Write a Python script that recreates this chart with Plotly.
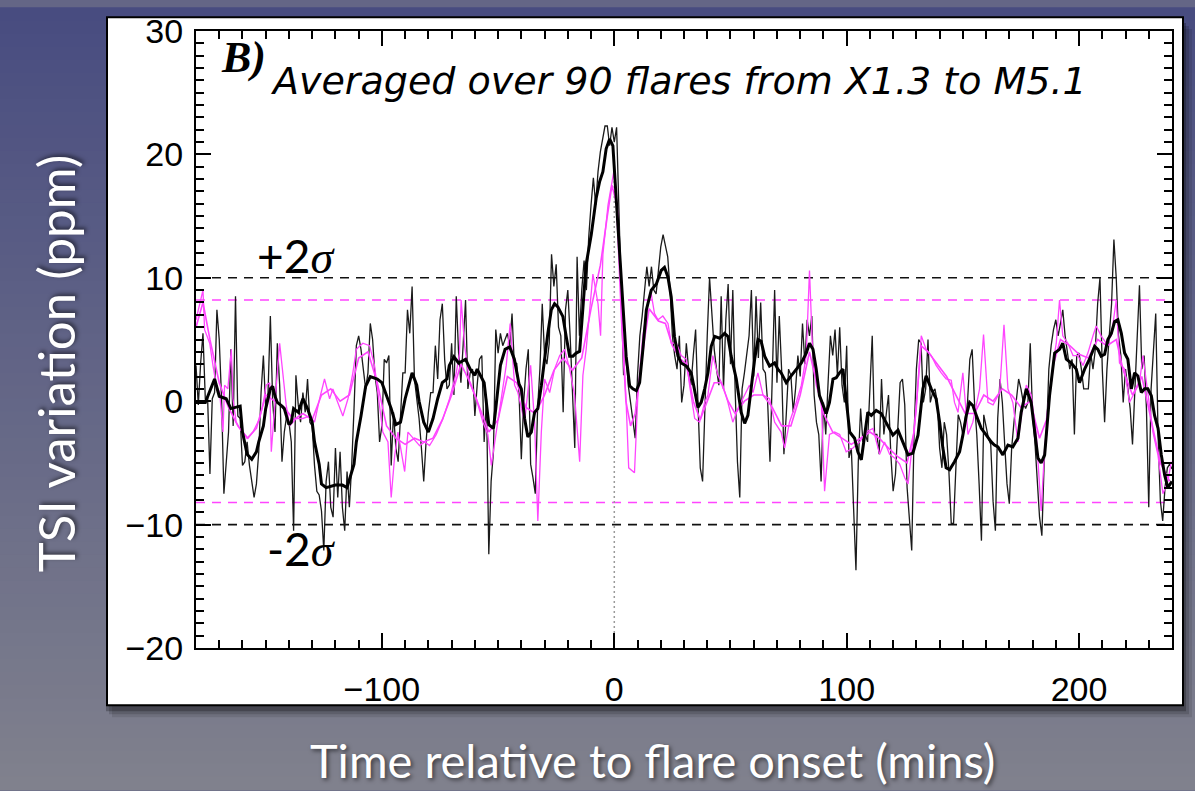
import plotly.graph_objects as go

# ---------------- data ----------------
# thin black line: 1-minute samples from -180 to 240 min
t_raw = list(range(-180, 241))
raw_black = [
    # -180 .. -42
    2.9, -0.3, 3.1, 5.5, 0.2, 0.2, -5.9, 0.2, 0.7, 7.4,
    5.0, 0.2, -7.5, -5.2, -2.5, 4.2, -2.0, 8.5, -1.2, -1.4,
    -5.2, -4.9, -3.3, -5.2, -6.5, -7.8, -6.7, -4.1, 0.7, 3.7,
    -0.6, 0.7, 6.9, -0.1, -2.5, 4.7, 1.3, -4.9, -2.5, -1.2,
    -1.7, -3.3, -10.5, 2.1, -0.3, -1.7, 0.7, -0.9, 1.8, -1.7,
    -2.0, -5.2, -7.3, -7.6, -8.9, -12.1, -6.5, -4.9, -8.6, -9.4,
    -3.8, -7.8, -4.1, -8.6, -10.5, -5.7, -8.6, -5.2, -0.6, 4.5,
    5.3, 4.2, 2.6, 1.0, 2.3, 6.3, 5.0, 2.1, 0.7, -3.3,
    -2.0, 3.4, 3.1, 3.7, -5.2, -0.9, -3.8, -4.9, -1.2, 2.3,
    2.3, 7.4, 5.5, 9.3, 1.8, 0.2, -1.4, -3.8, -6.5, -3.3,
    -0.9, 0.7, 0.7, 4.5, 1.8, 6.6, 7.9, 3.4, 1.0, 1.3,
    4.7, 0.5, 8.5, 3.9, 1.5, 4.7, 8.2, 1.0, 2.3, 2.6,
    -1.2, 1.3, 3.4, 3.7, -3.3, 0.2, -12.4, -6.5, -4.1, 5.8,
    3.9, 5.5, 4.5, 5.0, 5.5, 4.5, 7.1, 2.9, 3.1,
    # -41 .. 96
    0.7, -4.7, -0.1, 2.6, 4.2, -5.1, -6.2, -7.5, -0.6, 2.6,
    7.9, 3.7, 3.0, 4.7, 11.9, 9.3, 11.1, 6.0, 5.3, -0.9,
    7.4, 9.0, 5.3, 0.5, -3.8, 11.7, 5.3, 9.0, 11.4, 9.0,
    13.3, 15.9, 18.1, 15.9, 18.6, 20.2, 21.3, 22.3, 22.3, 20.7,
    22.2, 21.0, 22.2, 15.9, 7.9, 2.1, 4.2, 1.3, -0.1, -1.7,
    -3.0, 2.1, 5.3, 6.9, 8.7, 10.9, 9.3, 10.9, 9.0, 8.7,
    10.6, 12.5, 13.5, 12.5, 11.7, 9.0, 5.3, 3.7, 2.6, 5.3,
    -0.1, 1.3, 4.7, 2.6, 1.3, 3.7, 5.8, -0.1, -5.4, -6.5,
    -0.1, 5.3, 10.0, 7.4, 4.2, 2.6, 1.3, 8.5, 1.0, 6.6,
    9.5, 3.0, 9.0, 1.0, -4.9, -7.8, 1.0, 2.3, 3.7, 5.3,
    9.0, 2.0, 8.5, 3.5, 8.0, 2.6, 2.3, -0.1, -4.9, 2.1,
    9.0, 1.5, 6.9, 2.6, -4.3, -1.1, 2.6, 2.1, -0.9, 1.0,
    3.7, 2.0, 6.3, 3.0, 6.6, 5.3, 6.9, 0.5, -1.7, -2.7,
    -6.5, -0.1, -2.7, 1.5, 5.3, 3.7, 5.8, 2.1,
    # 97 .. 240
    6.0, 1.3, -0.1, 4.5, -4.6, -3.8, -8.1, -13.7, -4.9, -0.6,
    -3.3, -2.7, -3.3, 0.5, 5.3, -2.7, -2.7, -4.3, 1.8, -2.7,
    -0.9, 0.5, -4.3, -7.3, -5.9, -2.7, 1.5, 1.8, -0.3, -7.0,
    -9.4, -12.1, -2.7, 2.6, 5.0, 4.7, -0.1, 1.0, 5.0, -0.1,
    0.7, 1.0, -0.1, -3.8, -5.4, -1.7, -2.7, -5.7, -9.9, -9.9,
    -5.4, -1.1, -1.7, -2.7, -1.4, -0.1, 3.4, 4.2, -0.1, -2.7,
    -6.7, -11.3, -1.1, -2.2, -3.0, -3.5, -8.1, -10.5, -1.4, 1.8,
    -0.1, -3.5, -6.7, -8.3, -3.8, -1.7, -0.1, 1.8, 1.0, -0.1,
    -0.6, -0.1, 4.7, -1.1, -3.3, -6.5, -9.4, -10.9, -4.9, -2.7,
    2.6, 4.5, 5.8, 6.6, 5.3, 6.3, 7.4, 5.3, 3.7, 2.6,
    3.4, -2.7, 3.7, 3.9, 2.6, 1.0, 1.0, 1.0, 3.9, 2.6,
    4.2, 7.9, 10.0, 2.6, -1.7, 2.6, 5.3, 7.9, 13.1, 10.0,
    5.3, 3.7, -0.1, 2.6, 1.0, -0.6, -3.5, 1.0, 5.3, 9.4,
    2.6, 3.7, -0.6, -8.6, 1.0, 3.9, 7.1, -2.7, -8.1, -9.7,
    -7.0, -5.4, -5.1, -5.5,
]

# thick black line (smoothed average)
smooth_x = [
    -180, -176, -172, -170, -167, -165, -161, -160, -158, -156,
    -154, -153, -151, -150, -148, -147, -146, -145, -143, -142,
    -140, -139, -138, -136, -134, -132, -130, -129, -127, -126,
    -124, -122, -120, -117, -115, -112, -111, -109, -107, -105,
    -102, -100, -98, -96, -94, -92, -90, -88, -87, -85,
    -84, -82, -80, -78, -76, -74, -72, -71, -69, -67,
    -64, -62, -60, -59, -56, -54, -52, -51, -49, -47,
    -45, -43, -41,
    -40.0, -38.6, -37.2, -35.7, -34.3, -32.9, -31.4, -30.0, -28.6, -27.1,
    -25.7, -24.3, -22.1, -20.7, -19.2, -17.8, -16.4, -14.9, -13.5, -12.1,
    -9.9, -7.8, -6.3, -4.9, -3.5, -2.0, -0.6, 0.8, 2.3, 3.7,
    5.1, 6.6, 8.0, 9.5, 10.9, 12.3, 13.8, 15.9, 18.1, 20.2,
    21.6, 23.1, 24.5, 25.9, 27.4, 28.8, 31.0, 33.1, 34.6, 36.0,
    37.4, 38.9, 40.3, 41.7, 43.2, 45.3, 47.5, 48.9, 50.3, 52.5,
    54.6, 56.1, 57.5, 58.9, 60.4, 61.8, 63.2, 64.7, 66.8, 69.0,
    70.4, 71.8, 74.0, 76.1, 78.3, 80.5, 82.6, 84.0, 85.5, 86.9,
    88.3, 89.8, 91.2, 92.6, 94.1, 95.5, 96.9,
    98.4, 99.8, 101.3, 103.4, 104.8, 106.3, 107.7, 109.1, 110.6, 112.7,
    114.9, 117.0, 118.5, 119.9, 122.1, 123.5, 124.9, 126.4, 128.5, 130.7,
    132.8, 134.2, 136.4, 138.5, 140.0, 141.4, 142.8, 144.3, 146.4, 148.6,
    150.0, 151.5, 152.9, 154.3, 155.8, 157.9, 160.1, 162.2, 163.6, 165.1,
    167.2, 169.4, 171.5, 173.7, 175.1, 177.3, 179.4, 180.9, 182.3, 183.7,
    185.2, 187.3, 189.5, 191.6, 193.0, 194.5, 196.6, 198.8, 200.2, 202.4,
    204.5, 206.7, 208.1, 209.5, 211.0, 212.4, 213.9, 215.3, 216.7, 218.2,
    219.6, 221.0, 222.5, 223.9, 225.3, 226.8, 228.2, 229.6, 231.1, 232.5,
    234.0, 235.4, 236.8, 238.2, 240.0,
]
smooth_y = [
    -0.1, -0.1, 1.8, 0.4, 0.2, -0.6, -0.4, -2.5, -4.3, -4.7,
    -4.1, -3.3, -2.0, -0.6, 1.0, 1.2, 0.4, -0.1, -0.4, -0.6,
    -1.9, -1.7, -0.6, -0.9, 0.2, -0.6, -1.7, -3.3, -5.1, -6.7,
    -7.0, -6.9, -6.8, -6.8, -7.0, -5.1, -3.3, -1.2, 1.2, 2.0,
    1.8, 1.5, 0.5, -0.6, -1.9, -1.7, 0.2, 1.5, 2.3, 1.3,
    0.0, -1.7, -2.5, -1.4, 0.2, 1.5, 1.8, 2.9, 3.6, 3.1,
    3.4, 2.6, 2.1, 2.6, 1.5, -1.9, -2.2, -0.6, 2.9, 4.2,
    4.4, 3.4, 1.4,
    1.0, -1.4, -2.9, -2.5, -0.9, -0.6, 1.25, 3.65, 5.5, 7.4,
    7.9, 7.65, 6.85, 5.25, 3.65, 3.65, 3.9, 4.05, 7.4, 11.1,
    13.5, 16.45, 17.8, 18.6, 20.45, 21.25, 20.7, 16.45, 12.7, 7.9,
    3.65, 1.25, 1.0, 0.85, 1.5, 4.2, 7.4, 9.0, 9.5, 10.6,
    10.85, 10.05, 8.45, 5.25, 3.65, 3.1, 2.85, 2.3, 0.7, -0.5,
    -0.1, 1.0, 2.3, 4.45, 5.25, 5.1, 5.5, 5.25, 3.65, 1.8,
    -0.9, -1.8, -1.15, 1.25, 3.4, 5.0, 4.85, 3.65, 2.85, 3.1,
    2.6, 2.3, 1.5, 2.05, 2.6, 3.1, 3.9, 4.7, 4.2, 2.6,
    0.45, -0.35, -1.0, -0.1, 1.8, 1.9, 2.3,
    2.6, -0.1, -2.5, -3.0, -4.1, -4.75, -2.75, -0.9, -1.15, -0.75,
    -1.0, -1.7, -2.2, -2.75, -2.35, -3.0, -3.8, -4.35, -4.2, -2.75,
    1.0, 2.05, 1.0, 0.2, -1.7, -3.8, -5.4, -5.55, -4.9, -4.1,
    -2.75, -1.15, -0.1, -0.35, -1.15, -2.2, -2.75, -3.3, -3.55, -3.7,
    -4.35, -3.55, -3.7, -3.0, -0.9, 1.0, -0.1, -2.2, -4.6, -5.0,
    -4.35, 0.45, 3.9, 4.2, 4.7, 3.4, 3.1, 2.6, 1.5, 2.6,
    3.4, 4.45, 4.2, 3.65, 3.8, 5.0, 5.5, 6.45, 6.6, 5.5,
    3.9, 3.4, 1.0, 2.3, 2.05, 0.7, 1.0, 1.0, 0.45, -1.15,
    -2.2, -4.35, -5.95, -7.0, -6.5,
]

# magenta line 1 (noisier)
mag1_x = [
    -180, -177.0, -176.3, -174.1, -172.7, -171.3, -169.8, -168.4, -167.7, -166.3,
    -164.8, -164.1, -162.7, -161.2, -159.8, -157.6, -155.5, -154.1, -152.6, -151.2,
    -149.8, -148.3, -147.6, -146.2, -144.0, -141.2, -139.7, -136.9, -134.0, -131.1,
    -129.0, -126.8, -124.7, -122.5, -121.1, -119.6, -116.8, -114.6, -112.5, -111.0,
    -108.2, -105.3, -103.2, -99.6, -97.4, -96.0, -94.5, -93.1, -90.2, -88.8,
    -86.6, -83.8, -81.6, -79.5, -76.6, -73.7, -70.9, -68.0, -66.6, -65.9,
    -64.4, -62.3, -59.4, -56.5, -54.4, -52.9, -50.8, -48.6, -46.5, -44.8,
    -42.9,
    -41.5, -38.6, -36.0, -34.3, -32.9, -31.4, -30.0, -27.8, -25.7, -23.5,
    -21.4, -19.2, -17.1, -14.9, -13.5, -12.1, -9.2, -7.0, -5.9, -4.9,
    -2.7, -0.2, 1.6, 3.0, 5.1, 6.2, 8.7, 10.2, 12.3, 14.5,
    15.9, 17.3, 18.8, 20.9, 23.1, 24.5, 26.7, 28.8, 31.0, 32.4,
    34.6, 36.7, 38.9, 40.3, 42.4, 44.6, 46.7, 48.9, 51.0, 53.2,
    56.1, 58.2, 59.7, 61.8, 64.0, 66.8, 69.0, 71.8, 73.3, 75.4,
    78.3, 80.5, 82.6, 84.0, 85.2, 86.9, 89.1, 90.5, 92.6, 94.8,
    97.0, 99.8, 102.7, 105.6, 108.4, 111.3, 114.2, 116.3, 118.5, 120.6,
    122.8, 125.0, 126.4, 127.8, 130.0, 132.1, 134.2, 136.4, 138.5, 140.7,
    142.8, 145.0, 146.4, 147.9, 150.0, 152.2, 154.3, 157.2, 158.9, 160.8,
    163.0, 165.8, 167.7, 169.4, 171.5, 173.7, 175.6, 177.3, 179.4, 181.6,
    183.7, 185.2, 187.3, 188.8, 190.2, 191.6, 193.0, 195.2, 197.4, 199.5,
    201.7, 203.8, 206.0, 207.4, 209.5, 211.7, 213.9, 216.0, 217.4, 219.6,
    221.7, 223.9, 226.0, 227.5, 229.6, 231.8, 233.9, 236.1, 238.2, 239.7,
]
mag1_y = [
    6.6, 9.0, 5.8, 4.7, 2.9, 1.3, 0.7, -2.5, 1.3, 1.0,
    4.2, 0.2, -1.7, -2.2, -2.5, -3.0, -2.5, -2.0, -1.4, -0.3,
    1.3, 1.5, -4.1, -0.6, 4.7, -0.3, -2.0, -1.4, -1.4, -1.2,
    -1.7, 0.2, 1.8, 0.2, 1.0, 0.2, -1.2, 0.2, 2.3, 4.2,
    4.7, 4.5, 2.9, -2.5, -3.3, -7.8, -4.4, -2.5, -5.7, -2.5,
    -3.0, -3.6, -3.3, -3.6, -2.7, -1.4, 0.2, 2.3, 3.9, 8.2,
    4.5, 1.5, 0.2, -1.7, -2.7, -5.2, -2.5, 0.2, 2.9, 6.3,
    1.3,
    0.7, -1.7, 2.9, -1.7, -9.7, -2.5, 1.8, 0.7, 2.6, 3.7,
    4.2, 2.6, 0.5, -4.9, 2.1, 4.2, 10.3, 7.9, 5.3, 11.9,
    15.9, 18.6, 15.1, 7.9, -0.1, -5.4, -5.8, 0.7, 5.3, 7.9,
    8.7, 7.1, 6.6, 6.9, 6.3, 4.7, 4.7, 3.7, 3.4, 1.3,
    -1.4, -1.7, -0.1, 0.5, 3.7, 2.1, 1.3, -0.1, -1.7, -0.6,
    0.5, 1.3, 0.7, 2.3, 0.5, 0.2, -1.7, -2.5, -3.8, -1.7,
    -0.1, 1.3, 3.7, 10.6, 4.7, 1.3, -0.1, -7.3, -2.7, -2.5,
    -2.7, -4.1, -3.8, -3.3, -2.5, -2.2, -4.3, -3.3, -4.3, -4.6,
    -5.1, -6.2, -6.7, -4.1, -0.6, 5.3, 4.2, 3.7, 2.9, 2.3,
    1.8, 1.7, -0.1, -0.9, 2.3, -2.7, -1.7, 1.0, 5.4, -0.1,
    -0.3, 0.7, 6.2, 1.0, -0.1, -3.3, -0.6, 1.3, 0.5, -2.7,
    -8.9, -3.8, -0.1, 3.1, 4.7, 8.2, 5.3, 4.7, 3.7, 3.7,
    2.9, 3.9, 5.3, 6.1, 5.3, 4.7, 5.3, 8.2, 3.1, 2.6,
    -0.1, 0.7, 1.5, 3.7, 0.5, -2.5, -4.3, -7.5, -6.5, -4.9,
]

# magenta line 2 (smoother)
mag2_x = [
    -180, -177, -174, -170, -166, -162, -158, -154, -150, -146,
    -142, -138, -134, -130, -126, -122, -118, -114, -110, -106,
    -102, -98, -94, -90, -86, -82, -78, -74, -70, -66,
    -62, -58, -54, -50, -46, -42, -38, -34, -30, -26,
    -22, -18, -14, -10, -6, -3, -1, 1, 3, 5,
    7, 9, 11, 13, 15, 17, 19, 22, 25, 28,
    31, 34, 37, 40, 43, 46, 49, 52, 56, 60,
    64, 68, 72, 76, 80, 84, 87, 90, 94, 98,
    102, 106, 110, 114, 118, 122, 126, 129, 132, 135,
    139, 143, 147, 151, 155, 159, 163, 167, 171, 175,
    179, 183, 186, 189, 192, 196, 200, 204, 208, 212,
    216, 219, 223, 227, 231, 235, 239,
]
mag2_y = [
    6.0, 8.0, 5.0, 1.5, -0.5, -2.0, -3.0, -2.2, 0.5, 0.0,
    -0.5, -1.5, -1.0, -1.5, 0.5, 1.0, 0.0, 0.5, 3.5, 4.0,
    1.5, -2.0, -3.0, -3.5, -3.0, -3.3, -3.0, -1.5, 0.5, 3.0,
    1.5, -0.5, -2.5, -1.5, 2.0, 1.5, -0.5, -1.0, 0.5, 2.5,
    3.5, 2.5, 3.5, 7.5, 11.0, 15.0, 17.5, 16.0, 7.0, 0.0,
    -2.0, -1.0, 2.0, 5.0, 7.5, 7.0, 6.5, 6.3, 4.5, 3.5,
    3.0, 0.0, -1.5, 0.0, 1.5, 1.5, 0.0, -1.0, 0.0, 0.5,
    0.5, -0.5, -2.0, -2.0, 0.5, 4.0, 1.5, -1.0, -2.5, -3.0,
    -3.5, -3.0, -2.5, -3.0, -3.8, -4.5, -5.0, -2.5, 4.5, 4.0,
    3.0, 2.0, 0.5, -1.0, -1.0, 0.5, 0.0, 1.0, 0.5, -0.5,
    0.0, -3.0, -1.5, 3.0, 5.0, 4.5, 3.8, 3.5, 5.0, 4.5,
    5.0, 2.5, 0.5, 2.0, -1.5, -5.0, -6.5,
]

sigma_black = 10.0      # +/- 2 sigma, black series
sigma_magenta = 8.2     # +/- 2 sigma, magenta series
x_range = [-180, 240]
y_range = [-20, 30]
zero_line_y = [-20, 20]
panel_label = "B)"
title_text = "Averaged over 90 flares from X1.3 to M5.1"
x_title = "Time relative to flare onset (mins)"
y_title = "TSI variation (ppm)"

# ---------------- geometry helpers (layout only) ----------------
W, H = 1195, 791
ML, MR, MT, MB = 196, 23, 24, 143
PW = W - ML - MR
PH = H - MT - MB


def px_x(p):
    return (p - ML) / PW


def px_y(p):
    return (H - MB - p) / PH


MAGENTA = "#ff45ff"

fig = go.Figure()

# sigma reference lines
for s in (sigma_black, -sigma_black):
    fig.add_trace(go.Scatter(x=x_range, y=[s, s], mode="lines",
                             line=dict(color="#111111", width=1.6, dash="9px,7px"),
                             hoverinfo="skip", showlegend=False))
for s in (sigma_magenta, -sigma_magenta):
    fig.add_trace(go.Scatter(x=x_range, y=[s, s], mode="lines",
                             line=dict(color=MAGENTA, width=1.5, dash="9px,7px"),
                             hoverinfo="skip", showlegend=False))
# onset marker
fig.add_trace(go.Scatter(x=[0, 0], y=zero_line_y, mode="lines",
                         line=dict(color="#9a9a9a", width=1.5, dash="2px,3px"),
                         hoverinfo="skip", showlegend=False))

fig.add_trace(go.Scatter(x=t_raw, y=raw_black, mode="lines",
                         line=dict(color="#1a1a1a", width=1.3), showlegend=False))
fig.add_trace(go.Scatter(x=mag2_x, y=mag2_y, mode="lines",
                         line=dict(color=MAGENTA, width=1.6), showlegend=False))
fig.add_trace(go.Scatter(x=mag1_x, y=mag1_y, mode="lines",
                         line=dict(color=MAGENTA, width=1.3), showlegend=False))
fig.add_trace(go.Scatter(x=smooth_x, y=smooth_y, mode="lines",
                         line=dict(color="black", width=3), showlegend=False))

# ---------------- background gradient, panel, shadow ----------------
shapes = []
top_rgb = (72, 76, 128)
bot_rgb = (128, 129, 141)
NB = 60
for i in range(NB):
    f = (i + 0.5) / NB
    c = tuple(int(round(top_rgb[k] + (bot_rgb[k] - top_rgb[k]) * f)) for k in range(3))
    y_top = H * i / NB
    y_bot = H * (i + 1) / NB + 1
    shapes.append(dict(type="rect", xref="paper", yref="paper", layer="below",
                       x0=px_x(0), x1=px_x(W), y0=px_y(y_bot), y1=px_y(y_top),
                       fillcolor="rgb(%d,%d,%d)" % c, line=dict(width=0)))
# drop shadow
for dx, dy, a in ((9, 12, 0.10), (6, 9, 0.15), (3, 6, 0.25)):
    shapes.append(dict(type="rect", xref="paper", yref="paper", layer="below",
                       x0=px_x(107 + dx - 4), x1=px_x(1183 + dx),
                       y0=px_y(706 + dy), y1=px_y(10 + dy),
                       fillcolor="rgba(0,0,0,%.2f)" % a, line=dict(width=0)))
# white panel
shapes.append(dict(type="rect", xref="paper", yref="paper", layer="below",
                   x0=px_x(107), x1=px_x(1183), y0=px_y(706), y1=px_y(10),
                   fillcolor="white", line=dict(color="black", width=2)))

shadow = "2px 2px 4px rgba(0,0,0,0.55)"
annotations = [
    dict(text="<b><i>%s</i></b>" % panel_label, x=px_x(219), y=px_y(51),
         xref="paper", yref="paper", xanchor="left", yanchor="middle", showarrow=False,
         font=dict(family="Liberation Serif", size=44, color="black")),
    dict(text="<i>%s</i>" % title_text, x=px_x(268), y=px_y(75),
         xref="paper", yref="paper", xanchor="left", yanchor="middle", showarrow=False,
         font=dict(family="DejaVu Sans", size=38, color="black")),
    dict(text='+2<span style="font-family:Liberation Serif"><i>σ</i></span>',
         x=px_x(255), y=px_y(251), xref="paper", yref="paper",
         xanchor="left", yanchor="middle", showarrow=False,
         font=dict(family="Lato", size=46, color="black")),
    dict(text='-2<span style="font-family:Liberation Serif"><i>σ</i></span>',
         x=px_x(265), y=px_y(547), xref="paper", yref="paper",
         xanchor="left", yanchor="middle", showarrow=False,
         font=dict(family="Lato", size=46, color="black")),
    dict(text=x_title, x=px_x(652), y=px_y(761), xref="paper", yref="paper",
         xanchor="center", yanchor="middle", showarrow=False,
         font=dict(family="Lato", size=47, color="white", shadow=shadow)),
    dict(text=y_title, x=px_x(55), y=px_y(360), xref="paper", yref="paper",
         xanchor="center", yanchor="middle", showarrow=False, textangle=-90,
         font=dict(family="Lato", size=51, color="white", shadow=shadow)),
]

axis_common = dict(
    showgrid=False, zeroline=False, showline=True, linecolor="black", linewidth=2,
    mirror="allticks", ticks="inside", ticklen=15, tickwidth=2, tickcolor="black",
    tick0=0, tickfont=dict(family="Liberation Sans", size=34, color="black"),
)

fig.update_layout(
    width=W, height=H,
    margin=dict(l=ML, r=MR, t=MT, b=MB, pad=0),
    paper_bgcolor="rgb(100,102,134)",
    plot_bgcolor="rgba(0,0,0,0)",
    shapes=shapes,
    annotations=annotations,
    xaxis=dict(axis_common, range=x_range, dtick=100, ticklabelstandoff=10,
               minor=dict(dtick=10, tick0=0, ticks="inside", ticklen=8, tickwidth=2,
                          tickcolor="black")),
    yaxis=dict(axis_common, range=y_range, dtick=10, ticklabelstandoff=4,
               minor=dict(dtick=1, tick0=0, ticks="inside", ticklen=8, tickwidth=2,
                          tickcolor="black")),
    showlegend=False,
)

fig.write_html("out.html")
